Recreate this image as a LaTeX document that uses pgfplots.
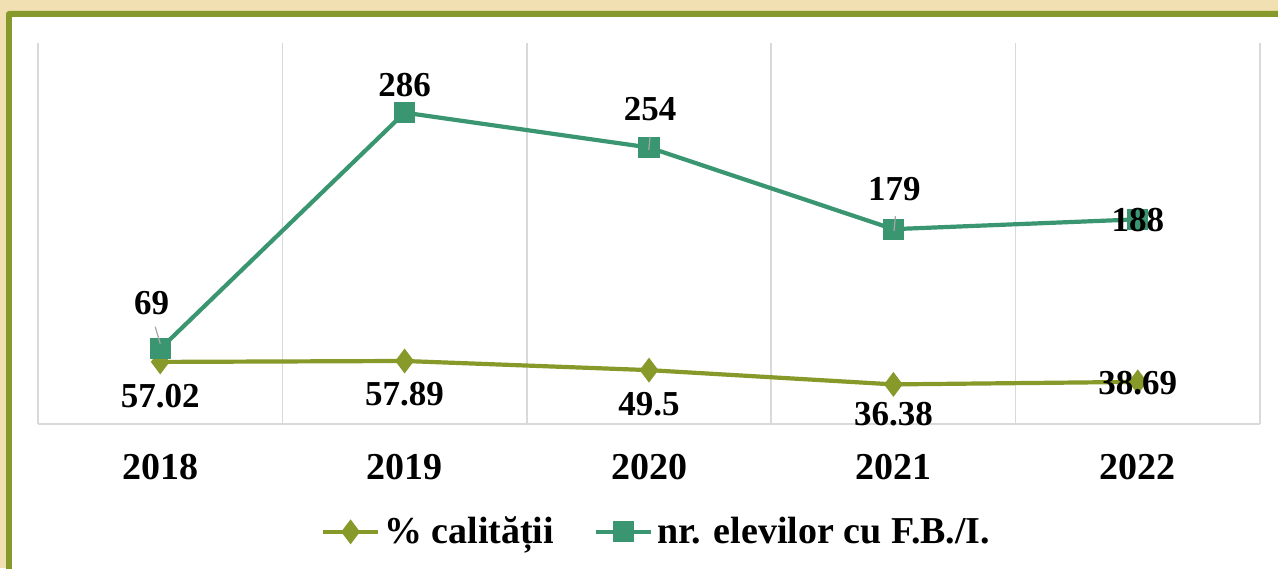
\documentclass[border=0pt]{standalone}
\usepackage{pgfplots}
\usepackage{pgfplotstable}
\pgfplotsset{compat=1.18}
\usepackage{fontspec}
\setmainfont{Liberation Serif}

\definecolor{bgtan}{RGB}{241,224,178}
\definecolor{frameolive}{RGB}{134,153,42}
\definecolor{calolive}{RGB}{134,153,41}
\definecolor{elevteal}{RGB}{58,150,112}
\definecolor{gridgray}{RGB}{217,217,217}
\definecolor{leadgray}{RGB}{166,166,166}

\pgfplotstableread{
x y lab
0 57.02 57.02
1 57.89 57.89
2 49.5 49.5
3 36.38 36.38
4 38.69 38.69
}\calitate

\pgfplotstableread{
x y lab
0 69 69
1 286 286
2 254 254
3 179 179
4 188 188
}\elevi

\pgfplotsset{
  lbl/.style={
    point meta=explicit symbolic,
    nodes near coords={\pgfplotspointmeta},
    every node near coord/.append style={anchor=center,inner sep=0pt,black,
      font=\bfseries\fontsize{17.5}{20}\selectfont}},
}
% short leader line under a data label
\tikzset{lead/.style n args={4}{append after command={
  ($(\tikzlastnode.south)+(#1,#2)$) edge[draw=leadgray,line width=0.6pt] ++(#3,#4)}}}
\usetikzlibrary{calc}

\begin{document}
\begin{tikzpicture}
\useasboundingbox (0,0) rectangle (639pt,284pt);
\clip (0,0) rectangle (639pt,284pt);
\fill[bgtan] (0,0) rectangle (639pt,284pt);
\fill[frameolive,rounded corners=1.5pt] (3pt,-10pt) rectangle (650pt,278.5pt);
\fill[white] (6pt,-10pt) rectangle (650pt,275.5pt);
\begin{axis}[at={(19pt,72pt)},anchor=south west,scale only axis,
  width=611pt,height=190.5pt,
  xmin=-0.5,xmax=4.5,ymin=0,ymax=350,
  axis y line=none,axis x line*=bottom,
  x axis line style={draw=gridgray,line width=0.75pt,-},
  xtick={0,...,4},xticklabels={2018,2019,2020,2021,2022},
  major tick length=0pt,minor tick length=0pt,
  minor xtick={-0.5,0.5,1.5,2.5,3.5,4.5},xminorgrids,
  minor grid style={draw=gridgray,line width=0.75pt},
  xticklabel style={font=\bfseries\fontsize{19}{22}\selectfont,anchor=base,yshift=-27.5pt},
  clip=false,
  legend columns=2,legend cell align=left,
  legend style={at={(0.507,-0.283)},anchor=center,draw=none,fill=none,
    font=\bfseries\fontsize{19}{22}\selectfont,
    /tikz/every even column/.append style={column sep=18pt}},
  legend image code/.code={\draw[#1,mark repeat=2,mark phase=2]
    plot coordinates {(0pt,0pt) (13.75pt,0pt) (27.5pt,0pt)};},
]
\addplot[calolive,line width=2.1pt,mark=diamond*,mark size=4.5pt,mark options={solid},lbl,
  coordinate style/.condition={x==0}{yshift=-17.25pt},
  coordinate style/.condition={x==1}{yshift=-16.5pt},
  coordinate style/.condition={x==2}{yshift=-17pt},
  coordinate style/.condition={x==3}{yshift=-15pt},
  coordinate style/.condition={x==4}{yshift=-0.75pt}]
  table[x=x,y=y,meta=lab]{\calitate};
\addplot[elevteal,line width=2.1pt,mark=square*,mark size=4.25pt,mark options={solid},lbl,
  coordinate style/.condition={x==0}{xshift=-4.25pt,yshift=23pt,lead={1.75pt}{-5pt}{2.5pt}{-8.5pt}},
  coordinate style/.condition={x==1}{yshift=14pt},
  coordinate style/.condition={x==2}{xshift=0.5pt,yshift=19.25pt,lead={0pt}{-7pt}{-0.6pt}{-6.5pt}},
  coordinate style/.condition={x==3}{xshift=0.5pt,yshift=20pt,lead={0.5pt}{-6.5pt}{-0.7pt}{-7.5pt}},
  coordinate style/.condition={x==4}{yshift=-0.5pt}]
  table[x=x,y=y,meta=lab]{\elevi};
\legend{\% calității,nr. elevilor cu F.B./I.}
\end{axis}
\end{tikzpicture}
\end{document}
